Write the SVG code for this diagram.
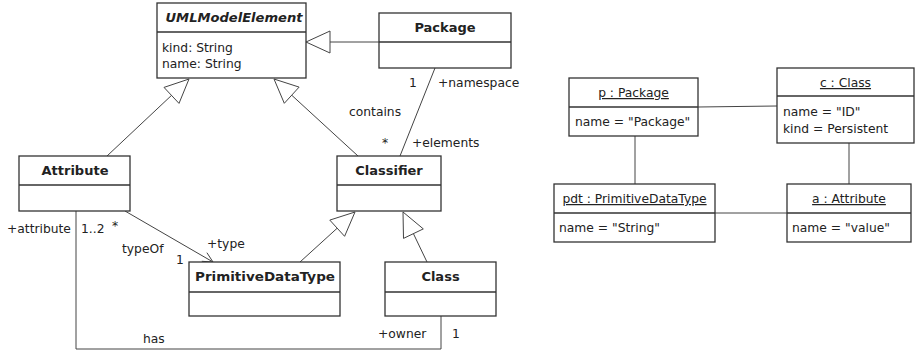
<svg xmlns="http://www.w3.org/2000/svg" width="918" height="352" viewBox="0 0 918 352">
<style>
.box{fill:#fff;stroke:#333;stroke-width:1.3}
.div{stroke:#333;stroke-width:1.3}
.ln{fill:none;stroke:#444;stroke-width:1}
.tri{fill:#fff;stroke:#444;stroke-width:1}
text{font-family:"DejaVu Sans","Liberation Sans",sans-serif;font-size:12.3px;fill:#222}
.t{font-weight:bold;text-anchor:middle;font-size:13px}
.ti{font-weight:bold;font-style:italic;text-anchor:middle;font-size:13px}
.o{text-anchor:middle;text-decoration:underline}
</style>
<rect width="918" height="352" fill="#fff"/>
<g id="connectors">
  <line class="ln" x1="379" y1="42" x2="330" y2="42"/>
  <polygon class="tri" points="306,42 330,31 330,53"/>
  <line class="ln" x1="107" y1="156" x2="171.5" y2="95.4"/>
  <polygon class="tri" points="189,79 179,103.4 164,87.4"/>
  <line class="ln" x1="358" y1="156" x2="291.7" y2="95.2"/>
  <polygon class="tri" points="274,79 299.1,87.1 284.3,103.3"/>
  <line class="ln" x1="300" y1="262" x2="337.2" y2="228.2"/>
  <polygon class="tri" points="355,212 344.6,236.3 329.8,220.1"/>
  <line class="ln" x1="427" y1="262" x2="413.4" y2="233.6"/>
  <polygon class="tri" points="403,212 423.3,228.9 403.5,238.4"/>
  <line class="ln" x1="435" y1="68" x2="400" y2="156"/>
  <line class="ln" x1="125" y1="211" x2="213" y2="262"/>
  <polyline class="ln" points="201.8,261.3 213,262 206.9,252.7"/>
  <polyline class="ln" points="76,211 76,349 441,349 441,316"/>
  <line class="ln" x1="698" y1="107" x2="777" y2="106"/>
  <line class="ln" x1="635" y1="136" x2="635" y2="184"/>
  <line class="ln" x1="849" y1="143" x2="849" y2="184"/>
  <line class="ln" x1="715" y1="213" x2="787" y2="213"/>
  <text x="409" y="87">1</text>
  <text x="438" y="87">+namespace</text>
  <text x="349" y="116">contains</text>
  <text x="382" y="147">*</text>
  <text x="412" y="147">+elements</text>
  <text x="7" y="233">+attribute</text>
  <text x="81" y="233">1..2</text>
  <text x="112" y="230">*</text>
  <text x="122" y="253">typeOf</text>
  <text x="207" y="248">+type</text>
  <text x="176" y="264">1</text>
  <text x="143" y="343">has</text>
  <text x="378" y="338">+owner</text>
  <text x="452" y="338">1</text>
</g>
<g id="UMLModelElement">
  <rect class="box" x="157" y="3" width="149" height="75"/>
  <line class="div" x1="157" y1="32" x2="306" y2="32"/>
  <text class="ti" x="234" y="22" textLength="137" lengthAdjust="spacingAndGlyphs">UMLModelElement</text>
  <text x="162" y="52">kind: String</text>
  <text x="162" y="68">name: String</text>
</g>
<g id="Package">
  <rect class="box" x="379" y="13" width="132" height="55"/>
  <line class="div" x1="379" y1="42" x2="511" y2="42"/>
  <text class="t" x="445" y="32">Package</text>
</g>
<g id="Attribute">
  <rect class="box" x="19" y="156" width="111" height="55"/>
  <line class="div" x1="19" y1="185" x2="130" y2="185"/>
  <text class="t" x="75" y="175">Attribute</text>
</g>
<g id="Classifier">
  <rect class="box" x="337" y="156" width="104" height="55"/>
  <line class="div" x1="337" y1="185" x2="441" y2="185"/>
  <text class="t" x="389" y="175">Classifier</text>
</g>
<g id="PrimitiveDataType">
  <rect class="box" x="189" y="262" width="151" height="54"/>
  <line class="div" x1="189" y1="292" x2="340" y2="292"/>
  <text class="t" x="265" y="281" textLength="140" lengthAdjust="spacingAndGlyphs">PrimitiveDataType</text>
</g>
<g id="Class">
  <rect class="box" x="385" y="262" width="111" height="54"/>
  <line class="div" x1="385" y1="292" x2="496" y2="292"/>
  <text class="t" x="440.5" y="281">Class</text>
</g>
<g id="p_Package">
  <rect class="box" x="569" y="78" width="129" height="58"/>
  <line class="div" x1="569" y1="107" x2="698" y2="107"/>
  <text class="o" x="633.5" y="97">p : Package</text>
  <text x="575" y="126">name = "Package"</text>
</g>
<g id="c_Class">
  <rect class="box" x="777" y="68" width="137" height="75"/>
  <line class="div" x1="777" y1="96" x2="914" y2="96"/>
  <text class="o" x="845.5" y="87">c : Class</text>
  <text x="783" y="116">name = "ID"</text>
  <text x="783" y="133">kind = Persistent</text>
</g>
<g id="pdt_PrimitiveDataType">
  <rect class="box" x="554" y="184" width="161" height="58"/>
  <line class="div" x1="554" y1="213" x2="715" y2="213"/>
  <text class="o" x="634.5" y="203">pdt : PrimitiveDataType</text>
  <text x="559" y="232">name = "String"</text>
</g>
<g id="a_Attribute">
  <rect class="box" x="787" y="184" width="124" height="58"/>
  <line class="div" x1="787" y1="213" x2="911" y2="213"/>
  <text class="o" x="849" y="203">a : Attribute</text>
  <text x="792" y="232">name = "value"</text>
</g>
</svg>
